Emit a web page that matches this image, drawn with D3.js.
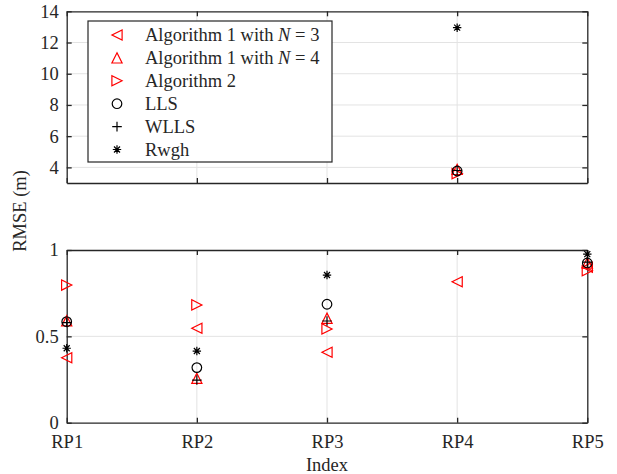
<!DOCTYPE html>
<html>
<head>
<meta charset="utf-8">
<script src="https://cdn.jsdelivr.net/npm/d3@7"></script>
<style>
  body { margin: 0; background: #fff; }
  svg text { font-family: "Liberation Serif", "Times New Roman", serif; fill: #262626; }
</style>
</head>
<body>
<div id="chart"></div>
<script>
// data
const categories = ['RP1', 'RP2', 'RP3', 'RP4', 'RP5'];
const alg1N3 = [0.376, 0.547, 0.408, 0.816, 0.90];
const alg1N4 = [0.59, 0.257, 0.605, 3.87, 0.925];
const alg2 = [0.797, 0.682, 0.543, 3.6, 0.88];
const lls = [0.585, 0.319, 0.686, 3.77, 0.925];
const wlls = [0.58, 0.247, 0.589, 3.8, 0.93];
const rwgh = [0.431, 0.415, 0.855, 12.95, 0.976];
const topTicks = [4, 6, 8, 10, 12, 14];
const bottomTicks = [0, 0.5, 1];

const series = [
  { name: 'Algorithm 1 with ', italic: 'N', tail: ' = 3', values: alg1N3, shape: 'left', color: 'red' },
  { name: 'Algorithm 1 with ', italic: 'N', tail: ' = 4', values: alg1N4, shape: 'up', color: 'red' },
  { name: 'Algorithm 2', values: alg2, shape: 'right', color: 'red' },
  { name: 'LLS', values: lls, shape: 'circle', color: 'black' },
  { name: 'WLLS', values: wlls, shape: 'plus', color: 'black' },
  { name: 'Rwgh', values: rwgh, shape: 'star', color: 'black' }
];

const W = 617, H = 474;
const fs = 18.5;
const left = 66.7, right = 587.3;

const svg = d3.select("#chart").append("svg")
  .attr("width", W).attr("height", H);

const x = d3.scaleLinear().domain([1, 5]).range([left, right]);

const panels = [
  { y: d3.scaleLinear().domain([3, 14]).range([183, 11.3]), ticks: topTicks, fmt: d3.format('d') },
  { y: d3.scaleLinear().domain([0, 1]).range([422.7, 250]), ticks: bottomTicks, fmt: d => d === 0.5 ? '0.5' : d3.format('d')(d) }
];

function markerPath(shape, cx, cy) {
  const s = 5.1;
  const p = d3.path();
  if (shape === 'left') {
    p.moveTo(cx - s, cy); p.lineTo(cx + s, cy - s); p.lineTo(cx + s, cy + s); p.closePath();
  } else if (shape === 'right') {
    p.moveTo(cx + s, cy); p.lineTo(cx - s, cy - s); p.lineTo(cx - s, cy + s); p.closePath();
  } else if (shape === 'up') {
    p.moveTo(cx, cy - s); p.lineTo(cx + s, cy + s); p.lineTo(cx - s, cy + s); p.closePath();
  } else if (shape === 'circle') {
    p.moveTo(cx + 4.8, cy); p.arc(cx, cy, 4.8, 0, 2 * Math.PI);
  } else if (shape === 'plus') {
    p.moveTo(cx - 4.8, cy); p.lineTo(cx + 4.8, cy);
    p.moveTo(cx, cy - 4.8); p.lineTo(cx, cy + 4.8);
  } else if (shape === 'star') {
    const a = 4.2, b = 3;
    p.moveTo(cx - a, cy); p.lineTo(cx + a, cy);
    p.moveTo(cx, cy - a); p.lineTo(cx, cy + a);
    p.moveTo(cx - b, cy - b); p.lineTo(cx + b, cy + b);
    p.moveTo(cx - b, cy + b); p.lineTo(cx + b, cy - b);
  }
  return p.toString();
}

panels.forEach((pn, pi) => {
  const y = pn.y;
  const g = svg.append("g");
  const [y0, y1] = y.range();

  // grid
  g.selectAll(".hgrid").data(pn.ticks.filter(t => t > y.domain()[0] && t < y.domain()[1]))
    .enter().append("line")
    .attr("x1", left).attr("x2", right)
    .attr("y1", d => y(d)).attr("y2", d => y(d))
    .attr("stroke", "#e3e3e3").attr("stroke-width", 1);
  g.selectAll(".vgrid").data([2, 3, 4])
    .enter().append("line")
    .attr("x1", d => x(d)).attr("x2", d => x(d))
    .attr("y1", y0).attr("y2", y1)
    .attr("stroke", "#e3e3e3").attr("stroke-width", 1);

  // axes (ticks inward)
  const yl = g.append("g").attr("transform", `translate(${left},0)`)
    .call(d3.axisLeft(y).tickValues(pn.ticks).tickFormat(pn.fmt).tickSize(-5).tickSizeOuter(0).tickPadding(8));
  const yr = g.append("g").attr("transform", `translate(${right},0)`)
    .call(d3.axisRight(y).tickValues(pn.ticks).tickFormat('').tickSize(-5).tickSizeOuter(0));
  const xb = g.append("g").attr("transform", `translate(0,${y0})`)
    .call(d3.axisBottom(x).tickValues([1, 2, 3, 4, 5]).tickSize(-5).tickSizeOuter(0).tickPadding(12)
      .tickFormat(pi === 1 ? (d, i) => categories[i] : ''));
  const xt = g.append("g").attr("transform", `translate(0,${y1})`)
    .call(d3.axisTop(x).tickValues([1, 2, 3, 4, 5]).tickFormat('').tickSize(-5).tickSizeOuter(0));
  [yl, yr, xb, xt].forEach(a => {
    a.selectAll("path, line").attr("stroke", "#262626").attr("stroke-width", 1.3);
    a.selectAll("text").attr("font-size", fs).attr("fill", "#262626")
      .style("font-family", '"Liberation Serif", serif');
  });

  // markers (a point is drawn when it lies inside this panel's range)
  series.forEach(s => {
    g.selectAll(null).data(s.values.map((v, i) => ({ i: i + 1, v })).filter(d => d.v >= y.domain()[0] && d.v <= y.domain()[1]))
      .enter().append("path")
      .attr("d", d => markerPath(s.shape, x(d.i), y(d.v)))
      .attr("fill", "none")
      .attr("stroke", s.color)
      .attr("stroke-width", 1.2);
  });
});

// legend
const lg = svg.append("g");
lg.append("rect").attr("x", 88).attr("y", 21).attr("width", 244).attr("height", 141)
  .attr("fill", "#fff").attr("stroke", "#262626").attr("stroke-width", 1.2);
series.forEach((s, i) => {
  const cy = 35 + i * 22.9;
  lg.append("path").attr("d", markerPath(s.shape, 117, cy))
    .attr("fill", "none").attr("stroke", s.color).attr("stroke-width", 1.2);
  const t = lg.append("text").attr("x", 145).attr("y", cy + 6).attr("font-size", fs);
  t.append("tspan").text(s.name);
  if (s.italic) {
    t.append("tspan").attr("font-style", "italic").text(s.italic);
    t.append("tspan").text(s.tail);
  }
});

// axis titles
svg.append("text").attr("x", 327).attr("y", 471).attr("text-anchor", "middle")
  .attr("font-size", fs).text("Index");
svg.append("text").attr("transform", "translate(26,211) rotate(-90)")
  .attr("text-anchor", "middle").attr("font-size", fs).text("RMSE (m)");
</script>
</body>
</html>
